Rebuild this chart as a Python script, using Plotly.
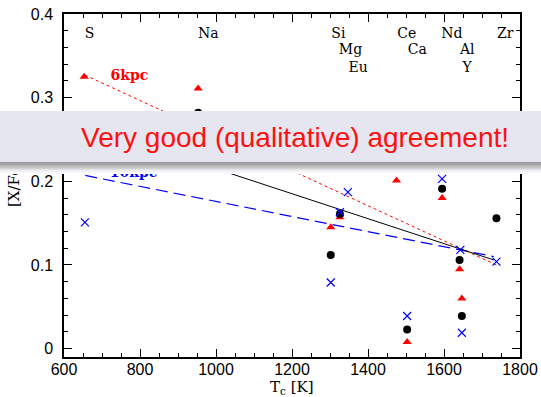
import plotly.graph_objects as go

# ---- data ----
t_red = [653, 953, 1302, 1326, 1475, 1503, 1595, 1641, 1647, 1738]
v_red = [0.325, 0.311, 0.145, 0.157, 0.201, 0.008, 0.180, 0.095, 0.060, 0.211]

t_black = [953, 1302, 1326, 1503, 1595, 1641, 1647, 1738]
v_black = [0.282, 0.112, 0.161, 0.023, 0.191, 0.106, 0.039, 0.156]

t_blue = [655, 1302, 1326, 1347, 1503, 1595, 1643, 1647, 1738]
v_blue = [0.151, 0.079, 0.163, 0.187, 0.039, 0.203, 0.118, 0.019, 0.104]

fit_red_t = [655, 1738]
fit_red_v = [0.327, 0.100]
fit_blue_t = [656, 1731]
fit_blue_v = [0.207, 0.110]
fit_black_t = [953, 1731]
fit_black_v = [0.222, 0.106]

elem_names = ["S", "Na", "Si", "Mg", "Eu", "Ce", "Ca", "Nd", "Al", "Y", "Zr"]
elem_t = [667, 980, 1322, 1354, 1374, 1502, 1530, 1621, 1661, 1661, 1761]
elem_v = [0.376, 0.376, 0.376, 0.356, 0.335, 0.376, 0.356, 0.376, 0.356, 0.335, 0.376]

series_labels = ["6kpc", "10kpc"]
series_label_t = [772, 783]
series_label_v = [0.325, 0.209]

x_ticks = [600, 800, 1000, 1200, 1400, 1600, 1800]
y_ticks = [0, 0.1, 0.2, 0.3, 0.4]
y_tick_text = ["0", "0.1", "0.2", "0.3", "0.4"]

banner_text = "Very good (qualitative) agreement!"

W, H = 541, 397
ML, MR, MT, MB = 64, 21, 14, 40
PW, PH = W - ML - MR, H - MT - MB

def py(ypx):
    return (H - MB - ypx) / PH

def px(xpx):
    return (xpx - ML) / PW

fig = go.Figure()

fig.add_trace(go.Scatter(x=fit_red_t, y=fit_red_v, mode="lines",
                         line=dict(color="#ff0000", width=1, dash="dot"), hoverinfo="skip"))
fig.add_trace(go.Scatter(x=fit_blue_t, y=fit_blue_v, mode="lines",
                         line=dict(color="#0000ff", width=1.2, dash="12px,6px"), hoverinfo="skip"))
fig.add_trace(go.Scatter(x=fit_black_t, y=fit_black_v, mode="lines",
                         line=dict(color="black", width=1), hoverinfo="skip"))

fig.add_trace(go.Scatter(x=t_red, y=v_red, mode="markers",
                         marker=dict(symbol="triangle-up", size=8, color="#ff0000")))
fig.add_trace(go.Scatter(x=t_black, y=v_black, mode="markers",
                         marker=dict(symbol="circle", size=8, color="black")))
fig.add_trace(go.Scatter(x=t_blue, y=v_blue, mode="markers",
                         marker=dict(symbol="x-thin-open", size=8, color="#0000ff",
                                     line=dict(color="#0000ff", width=1.2))))

fig.add_trace(go.Scatter(x=elem_t, y=elem_v, mode="text", text=elem_names,
                         textfont=dict(family="DejaVu Serif", size=14, color="black"),
                         cliponaxis=False))
fig.add_trace(go.Scatter(x=series_label_t, y=series_label_v, mode="text",
                         text=[f"<b>{s}</b>" for s in series_labels],
                         textfont=dict(family="DejaVu Serif", size=14, color=["#ff0000", "#0000ff"]),
                         cliponaxis=False))

annotations = []
# axis titles (drawn before banner so the banner covers them)
annotations.append(dict(text="[X/Fe]", xref="paper", yref="paper", x=px(14), y=py(184),
                        xanchor="center", yanchor="middle", textangle=-90, showarrow=False,
                        font=dict(family="DejaVu Serif", size=15, color="black")))
annotations.append(dict(text="T<sub>c</sub> [K]", xref="paper", yref="paper", x=px(292), y=py(387),
                        xanchor="center", yanchor="middle", showarrow=False,
                        font=dict(family="DejaVu Serif", size=15, color="black")))
# shadow strips under banner
shadow_cols = [150, 165, 180, 195, 210, 225, 240, 250]
y0 = 162
for i, c in enumerate(shadow_cols):
    annotations.append(dict(text=" ", xref="paper", yref="paper", x=px(-2), y=py(y0 + i * 1.4),
                            xanchor="left", yanchor="top", width=W + 6, height=2,
                            bgcolor=f"rgb({c},{c},{c + 2})", borderpad=0, borderwidth=0,
                            showarrow=False, font=dict(size=2)))
# banner box
annotations.append(dict(text=" ", xref="paper", yref="paper", x=px(-2), y=py(111),
                        xanchor="left", yanchor="top", width=W + 6, height=51,
                        bgcolor="#e6e6f0", borderpad=0, borderwidth=0,
                        showarrow=False, font=dict(size=2)))
annotations.append(dict(text=banner_text, xref="paper", yref="paper", x=px(295), y=py(137),
                        xanchor="center", yanchor="middle", showarrow=False,
                        font=dict(family="Liberation Sans", size=28, color="#ff1010")))

axis_common = dict(showline=True, linecolor="black", linewidth=1.5, mirror="allticks",
                   ticks="inside", tickcolor="black", tickwidth=1, showgrid=False, zeroline=False,
                   automargin=False,
                   tickfont=dict(family="Liberation Sans", size=16, color="black"))

fig.update_layout(
    template="none",
    width=W, height=H,
    margin=dict(l=ML, r=MR, t=MT, b=MB),
    plot_bgcolor="white", paper_bgcolor="white",
    showlegend=False,
    xaxis=dict(range=[600, 1800], tickmode="array", tickvals=x_ticks,
               ticktext=[str(v) for v in x_ticks], ticklen=8, ticklabelstandoff=-3,
               minor=dict(tickmode="linear", tick0=600, dtick=50, ticklen=4, ticks="inside",
                          tickcolor="black", tickwidth=1),
               **axis_common),
    yaxis=dict(range=[-0.01, 0.4], tickmode="array", tickvals=y_ticks,
               ticktext=y_tick_text, ticklen=8, ticklabelstandoff=6,
               minor=dict(tickmode="linear", tick0=0, dtick=0.02, ticklen=4, ticks="inside",
                          tickcolor="black", tickwidth=1),
               **axis_common),
    annotations=annotations,
)

fig.write_html("out.html", config={"displayModeBar": False},
               post_script="document.body.style.margin='0';")
